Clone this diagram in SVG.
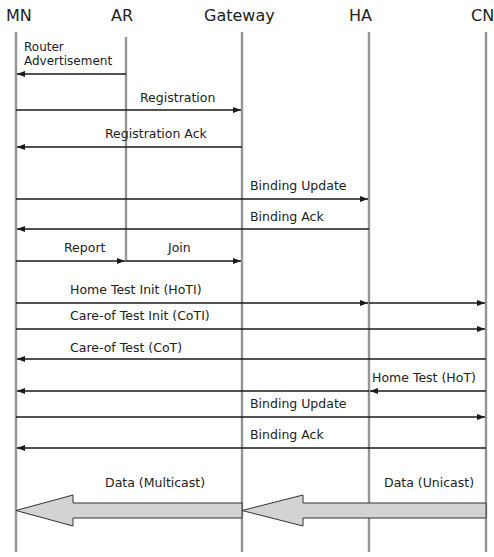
<svg xmlns="http://www.w3.org/2000/svg" width="494" height="557" viewBox="0 0 494 557">
<style>
.life{stroke:#959595;stroke-width:2.4;fill:none}
.msg{stroke:#1a1a1a;stroke-width:1.6;fill:none;marker-end:url(#ah)}
.hdr{font-family:"DejaVu Sans",sans-serif;font-size:16px;fill:#222}
.lbl{font-family:"DejaVu Sans",sans-serif;font-size:12.5px;fill:#222}
.sm{font-size:12px}
.big{fill:#d3d3d3;stroke:#333;stroke-width:1}
</style>
<defs>
<marker id="ah" viewBox="0 0 8 6" refX="8" refY="3" markerWidth="8" markerHeight="6" markerUnits="userSpaceOnUse" orient="auto">
<path d="M0,0 L8,3 L0,6 z" fill="#1a1a1a"/>
</marker>
</defs>
<rect width="494" height="557" fill="#fff"/>
<g id="MN"><text class="hdr" x="6" y="21">MN</text><line class="life" x1="16" y1="32" x2="16" y2="552"/></g>
<g id="AR"><text class="hdr" x="111" y="21">AR</text><line class="life" x1="126" y1="37" x2="126" y2="262"/></g>
<g id="Gateway"><text class="hdr" x="204" y="21">Gateway</text><line class="life" x1="242" y1="32" x2="242" y2="552"/></g>
<g id="HA"><text class="hdr" x="349" y="21">HA</text><line class="life" x1="369" y1="32" x2="369" y2="552"/></g>
<g id="CN"><text class="hdr" x="471" y="21">CN</text><line class="life" x1="486" y1="32" x2="486" y2="552"/></g>
<g id="connectors">
<line class="msg" x1="126" y1="74" x2="17" y2="74"/>
<line class="msg" x1="16" y1="110" x2="241" y2="110"/>
<line class="msg" x1="242" y1="147" x2="17" y2="147"/>
<line class="msg" x1="16" y1="199" x2="368" y2="199"/>
<line class="msg" x1="369" y1="229" x2="17" y2="229"/>
<line class="msg" x1="16" y1="261" x2="125" y2="261"/>
<line class="msg" x1="126" y1="261" x2="241" y2="261"/>
<line class="msg" x1="16" y1="303" x2="368" y2="303"/>
<line class="msg" x1="369" y1="303" x2="485" y2="303"/>
<line class="msg" x1="16" y1="329" x2="485" y2="329"/>
<line class="msg" x1="486" y1="359" x2="17" y2="359"/>
<line class="msg" x1="486" y1="391" x2="370" y2="391"/>
<line class="msg" x1="369" y1="391" x2="17" y2="391"/>
<line class="msg" x1="16" y1="417" x2="485" y2="417"/>
<line class="msg" x1="486" y1="448" x2="17" y2="448"/>
<path class="big" d="M242,503 L73,503 L73,495 L16,510.5 L73,526 L73,518 L242,518 z"/>
<path class="big" d="M486,503 L303,503 L303,495 L242,510.5 L303,526 L303,518 L486,518 z"/>
</g>
<g id="labels">
<text class="lbl sm" x="24" y="51">Router</text>
<text class="lbl sm" x="24" y="65">Advertisement</text>
<text class="lbl" x="140" y="101.5">Registration</text>
<text class="lbl" x="105" y="138">Registration Ack</text>
<text class="lbl" x="250" y="190">Binding Update</text>
<text class="lbl" x="250" y="221">Binding Ack</text>
<text class="lbl" x="64" y="252">Report</text>
<text class="lbl" x="168" y="252">Join</text>
<text class="lbl" x="70" y="294">Home Test Init (HoTI)</text>
<text class="lbl" x="70" y="320">Care-of Test Init (CoTI)</text>
<text class="lbl" x="70" y="351.5">Care-of Test (CoT)</text>
<text class="lbl" x="372" y="382">Home Test (HoT)</text>
<text class="lbl" x="250" y="408">Binding Update</text>
<text class="lbl" x="250" y="439">Binding Ack</text>
<text class="lbl" x="105" y="486.5">Data (Multicast)</text>
<text class="lbl" x="384" y="486.5">Data (Unicast)</text>
</g>
</svg>
